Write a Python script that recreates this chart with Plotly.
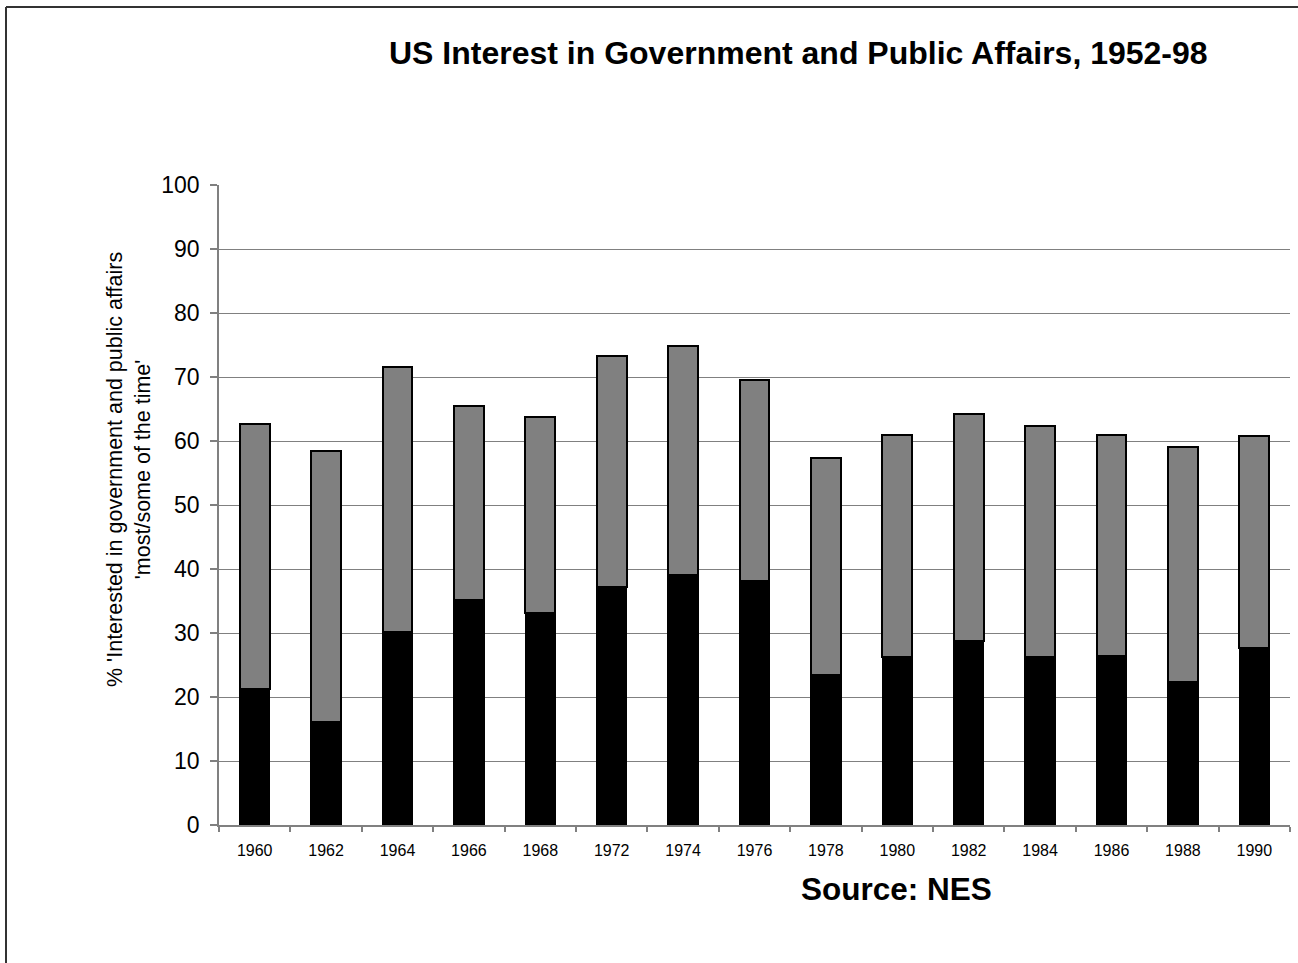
import plotly.graph_objects as go

years = ["1960", "1962", "1964", "1966", "1968", "1972", "1974", "1976",
         "1978", "1980", "1982", "1984", "1986", "1988", "1990"]
most_of_time = [21.2, 16.1, 30.2, 35.2, 33.2, 37.2, 39.0, 38.2,
                23.5, 26.2, 28.8, 26.2, 26.4, 22.3, 27.7]
some_of_time = [41.5, 42.3, 41.4, 30.2, 30.5, 36.1, 35.9, 31.4,
                33.8, 34.7, 35.4, 36.2, 34.5, 36.7, 33.1]
y_ticks = [0, 10, 20, 30, 40, 50, 60, 70, 80, 90, 100]

FONT = "Arial, 'Liberation Sans', sans-serif"

fig = go.Figure()
fig.add_trace(go.Bar(x=years, y=most_of_time, name="Most of the time",
                     marker=dict(color="#000000", line=dict(color="#000000", width=1.5))))
fig.add_trace(go.Bar(x=years, y=some_of_time, name="Some of the time",
                     marker=dict(color="#808080", line=dict(color="#000000", width=2))))

W, H = 1298, 963
L, R, T, B = 219, 8, 185, 138
pw, ph = W - L - R, H - T - B

def px_x(px):
    return (px - L) / pw

def px_y(py):
    return (H - B - py) / ph

fig.update_layout(
    width=W, height=H,
    barmode="stack", bargap=0.58,
    showlegend=False,
    plot_bgcolor="white", paper_bgcolor="white",
    margin=dict(l=L, r=R, t=T, b=B, autoexpand=False),
    font=dict(family=FONT, color="#000000"),
    xaxis=dict(type="category", tickson="boundaries", ticks="outside", ticklen=5,
               tickcolor="#808080", tickwidth=1.5, showline=True, linecolor="#808080",
               linewidth=1.5, showgrid=False, tickfont=dict(size=16, family=FONT),
               ticklabelstandoff=10),
    yaxis=dict(range=[0, 100], tickvals=y_ticks, ticks="outside", ticklen=7,
               tickcolor="#808080", tickwidth=1.5, showline=True, linecolor="#808080",
               linewidth=1.5, showgrid=True, gridcolor="#808080", gridwidth=1.3,
               tickfont=dict(size=23, family=FONT), ticklabelstandoff=6, zeroline=False),
    annotations=[
        dict(text="<b>US Interest in Government and Public Affairs, 1952-98</b>",
             xref="paper", yref="paper", x=px_x(798), y=px_y(53), showarrow=False,
             xanchor="center", yanchor="middle", font=dict(size=32, family=FONT)),
        dict(text="<b>Source: NES</b>",
             xref="paper", yref="paper", x=px_x(896), y=px_y(889), showarrow=False,
             xanchor="center", yanchor="middle", font=dict(size=31.5, family=FONT)),
        dict(text="% 'Interested in government and public affairs<br>'most/some of the time'",
             xref="paper", yref="paper", x=px_x(129), y=px_y(470), showarrow=False,
             textangle=-90, xanchor="center", yanchor="middle",
             font=dict(size=21.5, family=FONT)),
    ],
    shapes=[
        dict(type="line", xref="paper", yref="paper",
             x0=px_x(6), x1=px_x(1400), y0=px_y(7), y1=px_y(7),
             line=dict(color="#333333", width=2)),
        dict(type="line", xref="paper", yref="paper",
             x0=px_x(6), x1=px_x(6), y0=px_y(7), y1=px_y(1100),
             line=dict(color="#333333", width=2)),
    ],
)

fig.write_html("out.html", config={"displayModeBar": False})
